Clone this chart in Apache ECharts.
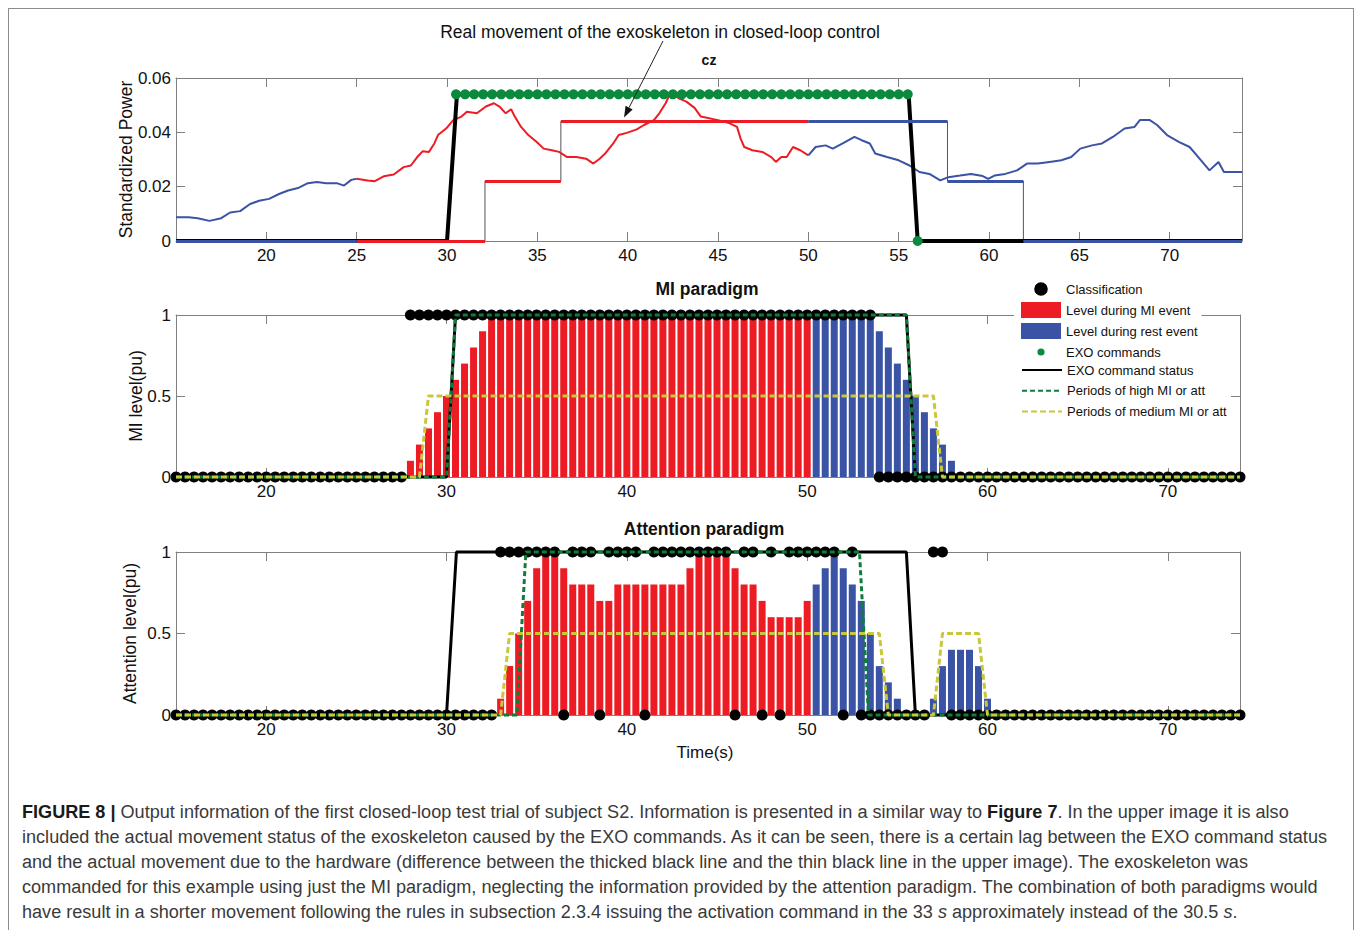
<!DOCTYPE html>
<html>
<head>
<meta charset="utf-8">
<script src="https://cdn.jsdelivr.net/npm/echarts@6/dist/echarts.min.js"></script>
<style>
  html, body { margin: 0; padding: 0; background: #fff; }
  body { width: 1360px; height: 930px; position: relative; overflow: hidden;
         font-family: 'Liberation Sans', Arial, Helvetica, sans-serif; }
  #frame { position: absolute; left: 8px; top: 8px; width: 1346px; height: 960px;
           border: 1.5px solid #8c8c8c; box-sizing: border-box; }
  #main { position: absolute; left: 0; top: 0; width: 1360px; height: 775px; }
  #caption { position: absolute; left: 22px; top: 800px; font-size: 18px; line-height: 25px;
             color: #3a3a3a; white-space: nowrap; transform-origin: 0 0; }
  #caption b { color: #1a1a1a; }
  #capRef { display: inline-block; }
</style>
</head>
<body>
<div id="frame"></div>
<div id="main"></div>
<div id="caption">
  <div><b>FIGURE 8 |</b> Output information of the first closed-loop test trial of subject S2. Information is presented in a similar way to <b>Figure 7</b>. In the upper image it is also</div>
  <div><span id="capRef">included the actual movement status of the exoskeleton caused by the EXO commands. As it can be seen, there is a certain lag between the EXO command status</span></div>
  <div>and the actual movement due to the hardware (difference between the thicked black line and the thin black line in the upper image). The exoskeleton was</div>
  <div>commanded for this example using just the MI paradigm, neglecting the information provided by the attention paradigm. The combination of both paradigms would</div>
  <div>have result in a shorter movement following the rules in subsection 2.3.4 issuing the activation command in the 33 <i>s</i> approximately instead of the 30.5 <i>s</i>.</div>
</div>
<script>
// ---- axis range and tick labels ----
var tStart = 15, tEnd = 74;
var topTicks = [20, 25, 30, 35, 40, 45, 50, 55, 60, 65, 70];
var lowTicks = [20, 30, 40, 50, 60, 70];
var powerTicks = [0, 0.02, 0.04, 0.06];
var levelTicks = [0, 0.5, 1];

// ---- Cz standardized power, [time s, power] ----
var powerRestPre = [[15,0.0087],[15.7,0.0087],[16.2,0.0084],[16.85,0.0074],[17.5,0.0084],[18,0.0105],
  [18.55,0.011],[19.1,0.0136],[19.6,0.0148],[20.15,0.0155],[20.7,0.0173],[21.2,0.0186],[21.75,0.0195],
  [22.3,0.0213],[22.8,0.0217],[23.3,0.0213],[23.9,0.0213],[24.3,0.0204],[24.7,0.0225],[25,0.0229]];
var powerMI = [[25,0.0229],[25.6,0.0223],[26,0.022],[26.5,0.0238],[27.05,0.0245],[27.6,0.0272],[28,0.0278],
  [28.35,0.0309],[28.65,0.033],[29,0.0328],[29.3,0.0359],[29.5,0.039],[29.95,0.0414],[30.35,0.0445],
  [30.8,0.0458],[31.1,0.0476],[31.65,0.047],[32.15,0.0495],[32.6,0.0507],[32.9,0.0495],[33.25,0.047],
  [33.55,0.0485],[33.75,0.0458],[34.1,0.042],[34.5,0.039],[34.95,0.0365],[35.35,0.034],[35.8,0.0334],
  [36.2,0.0328],[36.65,0.0309],[37.15,0.0309],[37.7,0.0303],[38.1,0.0285],[38.45,0.0303],[38.75,0.0322],
  [39.2,0.0359],[39.5,0.039],[39.95,0.0398],[40.5,0.0411],[40.9,0.0427],[41.45,0.0445],[41.75,0.047],
  [42.1,0.0507],[42.4,0.055],[42.8,0.0526],[43.25,0.0513],[43.7,0.049],[44.05,0.0458],[45,0.0445],
  [45.65,0.0433],[46.05,0.042],[46.25,0.0377],[46.45,0.0346],[46.9,0.0334],[47.45,0.0328],[47.95,0.0309],
  [48.2,0.0291],[48.5,0.0309],[48.8,0.0309],[49.15,0.0346],[49.55,0.0334],[50,0.0315]];
var powerRestPost = [[50,0.0315],[50.4,0.0346],[50.95,0.0352],[51.35,0.034],[51.9,0.0359],[52.55,0.0383],
  [52.95,0.0371],[53.4,0.0359],[53.7,0.0322],[54.35,0.0309],[55,0.0297],[55.6,0.0278],[56.15,0.0254],
  [56.7,0.0247],[57.3,0.0223],[57.75,0.0235],[58.4,0.0241],[59,0.0247],[59.65,0.0239],[59.95,0.0229],
  [60.3,0.0241],[60.9,0.0247],[61.55,0.026],[62.1,0.0285],[62.7,0.0285],[63.35,0.0291],[64,0.0297],
  [64.55,0.0309],[65.05,0.034],[65.7,0.0352],[66.25,0.0359],[66.85,0.0383],[67.5,0.0414],[68.05,0.042],
  [68.35,0.0445],[68.9,0.0445],[69.3,0.0427],[69.85,0.039],[70.5,0.0365],[71.1,0.0346],[71.65,0.0303],
  [72.2,0.026],[72.7,0.0291],[73,0.0254],[73.45,0.0254],[74,0.0254]];

// threshold steps: thin line and coloured levels [from, to, level]
var thresholdLine = [[15,0],[32.1,0],[32.1,0.022],[36.3,0.022],[36.3,0.044],[57.7,0.044],
  [57.7,0.022],[61.9,0.022],[61.9,0],[74,0]];
var stepMI = [[25,32.1,0],[32.1,36.3,0.022],[36.3,50,0.044]];
var stepRest = [[15,25,0],[50,57.7,0.044],[57.7,61.9,0.022],[61.9,74,0]];

// real exoskeleton movement (thick black) and EXO commands (green)
var realMovement = [[15,0],[30,0],[30.55,0.054],[55.55,0.054],[56.05,0],[74,0]];
var exoCmdTimes = [30.5,31,31.5,32,32.5,33,33.5,34,34.5,35,35.5,36,36.5,37,37.5,38,38.5,39,39.5,40,
  40.5,41,41.5,42,42.5,43,43.5,44,44.5,45,45.5,46,46.5,47,47.5,48,48.5,49,49.5,50,
  50.5,51,51.5,52,52.5,53,53.5,54,54.5,55,55.5];
var exoCmdLevel = 0.054;
var exoStopCmd = [56.05, 0];

// classifier output every 0.5 s from 15 s (1 = MI / attention detected)
var clsStep = 0.5;
var miClass  = '0000000000 0000000000 0000001111 1111111111 1111111111 1111111111 1111111111 1111111100 0000000000 0000000000 0000000000 000000000';
var attClass = '0000000000 0000000000 0000000000 0000001111 1110111011 1101111111 1101101011 1111010000 0000110000 0000000000 0000000000 000000000';

// level bars, one every 0.5 s
var miLevelStart = 28;
var miLevels = [0.1,0.2,0.3,0.4,0.5,0.6,0.7,0.8,0.9,
  1,1,1,1,1,1,1,1,1,1, 1,1,1,1,1,1,1,1,1,1, 1,1,1,1,1,1,1,1,1,1, 1,1,1,1,1,1,1,1,1,1, 1,1,1,
  0.9,0.8,0.7,0.6,0.5,0.4,0.3,0.2,0.1];
var attLevelStart = 33;
var attLevels = [0.1,0.3,0.5,0.7,0.9,1,1,0.9,0.8,0.8, 0.8,0.7,0.7,0.8,0.8,0.8,0.8,0.8,0.8,0.8,
  0.8,0.9,1,1,1,1,0.9,0.8,0.8,0.7, 0.6,0.6,0.6,0.6,0.7,0.8,0.9,1,0.9,0.8,
  0.7,0.5,0.3,0.2,0.1,0,0,0,0.1,0.3, 0.4,0.4,0.4,0.3,0.1];
var restOnset = 50.25;

// command status and detection periods
var miStatus  = [[15,0],[30,0],[30.5,1],[55.5,1],[56,0],[74,0]];
var miHigh    = [[15,0],[30,0],[30.5,1],[55.5,1],[56,0],[74,0]];
var miMedium  = [[15,0],[28.5,0],[29,0.5],[57,0.5],[57.5,0],[74,0]];
var attStatus = [[15,0],[30,0],[30.55,1],[55.5,1],[56,0],[74,0]];
var attHigh   = [[15,0],[33.9,0],[34.4,1],[52.9,1],[53.4,0],[74,0]];
var attMedium = [[15,0],[33,0],[33.5,0.5],[54,0.5],[54.5,0],[57,0],[57.5,0.5],[59.5,0.5],[60,0],[74,0]];

var arrowTarget = [39.8, 0.0455];

// ---- styles ----
var FONT = "'Liberation Sans', Arial, Helvetica, sans-serif";
var RED = '#ed1c24', BLUE = '#3a53a4', GREEN = '#0b8a3e', DGREEN = '#0e7d3a', YELLOW = '#c8c83a';
var GRAY = '#808080';

function classPoints(str) {
  return str.replace(/\s/g, '').split('').map(function (b, i) { return [tStart + i * clsStep, +b]; });
}
function levelPoints(start, levels, keep) {
  var out = [];
  levels.forEach(function (v, i) {
    var t = start + i * 0.5;
    if (v > 0 && keep(t)) out.push([t, v]);
  });
  return out;
}
function segs(list) {
  return list.map(function (s) { return { coords: [[s[0], s[2]], [s[1], s[2]]] }; });
}

var grids = [
  { left: 176, top: 78, width: 1066, height: 163 },
  { left: 176, top: 315, width: 1064, height: 162 },
  { left: 176, top: 552, width: 1064, height: 163 }
];
grids.forEach(function (g) { g.outerBoundsMode = 'none'; g.containLabel = false; });

var xAxes = [], yAxes = [];
grids.forEach(function (g, gi) {
  var ticks = gi === 0 ? topTicks : lowTicks;
  var yt = gi === 0 ? powerTicks : levelTicks;
  var ymax = gi === 0 ? 0.06 : 1;
  var line = { show: true, onZero: false, lineStyle: { color: GRAY, width: 1 } };
  var tick = { show: true, inside: true, length: 9, customValues: ticks, lineStyle: { color: GRAY } };
  xAxes.push({
    type: 'value', gridIndex: gi, position: 'bottom', min: tStart, max: tEnd,
    axisLine: line, axisTick: tick, splitLine: { show: false },
    axisLabel: { customValues: ticks, color: '#111', fontSize: 17, fontFamily: FONT, margin: 6 },
    name: gi === 2 ? 'Time(s)' : '', nameLocation: 'middle', nameGap: 29, nameMoveOverlap: false,
    nameTextStyle: { color: '#111', fontSize: 17, fontFamily: FONT, padding: [0, 6, 0, 0] }
  });
  xAxes.push({
    type: 'value', gridIndex: gi, position: 'top', min: tStart, max: tEnd,
    axisLine: line, axisTick: tick, axisLabel: { show: false }, splitLine: { show: false }
  });
  var ytick = { show: true, inside: true, length: 9, customValues: yt, lineStyle: { color: GRAY } };
  yAxes.push({
    type: 'value', gridIndex: gi, position: 'left', min: 0, max: ymax,
    axisLine: line, axisTick: ytick, splitLine: { show: false },
    axisLabel: { customValues: yt, color: '#111', fontSize: 17, fontFamily: FONT, margin: 5 },
    name: ['Standardized Power', 'MI level(pu)', 'Attention level(pu)'][gi],
    nameLocation: 'middle', nameGap: [41, 31, 37][gi], nameMoveOverlap: false,
    nameTextStyle: { color: '#111', fontSize: 17.5, fontFamily: FONT }
  });
  yAxes.push({
    type: 'value', gridIndex: gi, position: 'right', min: 0, max: ymax,
    axisLine: line, axisTick: ytick, axisLabel: { show: false }, splitLine: { show: false }
  });
});

function lineSeries(name, data, axis, color, width, dash, z) {
  return {
    type: 'line', name: name, data: data, xAxisIndex: axis, yAxisIndex: axis,
    symbol: 'none', clip: false, z: z, silent: true,
    lineStyle: { color: color, width: width, type: dash || 'solid' }, itemStyle: { color: color }
  };
}
function dots(name, data, axis, color, size, z) {
  return { type: 'scatter', name: name, data: data, xAxisIndex: axis, yAxisIndex: axis,
    clip: false, z: z, silent: true, symbolSize: size, itemStyle: { color: color, opacity: 1 } };
}
function bars(name, data, axis, color) {
  return { type: 'bar', name: name, data: data, xAxisIndex: axis, yAxisIndex: axis,
    barWidth: 7, barGap: '-100%', silent: true, z: 2, itemStyle: { color: color } };
}

var series = [
  // upper panel
  lineSeries('Threshold', thresholdLine, 0, '#555', 1, null, 2),
  lineSeries('Cz power (rest)', powerRestPre, 0, BLUE, 2, null, 3),
  lineSeries('Cz power (MI)', powerMI, 0, RED, 2, null, 3),
  lineSeries('Cz power (rest) ', powerRestPost, 0, BLUE, 2, null, 3),
  lineSeries('Real movement', realMovement, 0, '#000', 4, null, 4),
  { type: 'lines', name: 'Step MI', coordinateSystem: 'cartesian2d', xAxisIndex: 0, yAxisIndex: 0,
    data: segs(stepMI), clip: false, z: 5, silent: true, lineStyle: { color: RED, width: 3, opacity: 1 } },
  { type: 'lines', name: 'Step rest', coordinateSystem: 'cartesian2d', xAxisIndex: 0, yAxisIndex: 0,
    data: segs(stepRest), clip: false, z: 5, silent: true, lineStyle: { color: BLUE, width: 3, opacity: 1 } },
  dots('EXO commands', exoCmdTimes.map(function (t) { return [t, exoCmdLevel]; }).concat([exoStopCmd]), 0, GREEN, 10, 6),

  // MI paradigm
  bars('Level during MI event', levelPoints(miLevelStart, miLevels, function (t) { return t < restOnset; }), 2, RED),
  bars('Level during rest event', levelPoints(miLevelStart, miLevels, function (t) { return t > restOnset; }), 2, BLUE),
  dots('Classification', classPoints(miClass), 2, '#000', 11, 3),
  lineSeries('EXO command status', miStatus, 2, '#000', 3, null, 4),
  lineSeries('Periods of high MI or att', miHigh, 2, DGREEN, 3, [5, 3], 5),
  lineSeries('Periods of medium MI or att', miMedium, 2, YELLOW, 3, [6, 3], 6),

  // Attention paradigm
  bars('Level during MI event', levelPoints(attLevelStart, attLevels, function (t) { return t < restOnset; }), 4, RED),
  bars('Level during rest event', levelPoints(attLevelStart, attLevels, function (t) { return t > restOnset; }), 4, BLUE),
  dots('Classification', classPoints(attClass), 4, '#000', 11, 3),
  lineSeries('EXO command status', attStatus, 4, '#000', 3, null, 4),
  lineSeries('Periods of high MI or att', attHigh, 4, DGREEN, 3, [5, 3], 5),
  lineSeries('Periods of medium MI or att', attMedium, 4, YELLOW, 3, [6, 3], 6)
];

var legendBase = {
  orient: 'vertical', left: 1014, padding: [4, 4, 4, 7], backgroundColor: '#fff',
  itemWidth: 40, selectedMode: false, symbolKeepAspect: true,
  textStyle: { color: '#111', fontSize: 13, fontFamily: FONT }
};
var noSymbol = { opacity: 0 };

var chart = echarts.init(document.getElementById('main'), null, { renderer: 'svg' });
chart.setOption({
  animation: false,
  grid: grids,
  xAxis: xAxes,
  yAxis: yAxes,
  legend: [
    Object.assign({}, legendBase, {
      top: 277, itemHeight: 16, itemGap: 5,
      data: [
        { name: 'Classification', icon: 'path://M0,0M20,20M18.5,10A8.5,8.5,0,1,1,1.5,10A8.5,8.5,0,1,1,18.5,10Z' },
        { name: 'Level during MI event', icon: 'rect' },
        { name: 'Level during rest event', icon: 'rect' },
        { name: 'EXO commands', icon: 'path://M0,0M20,20M14.5,10A4.5,4.5,0,1,1,5.5,10A4.5,4.5,0,1,1,14.5,10Z' }
      ]
    }),
    Object.assign({}, legendBase, {
      top: 359.5, itemHeight: 16, itemGap: 7.7,
      data: [
        { name: 'EXO command status', itemStyle: noSymbol },
        { name: 'Periods of high MI or att', itemStyle: noSymbol },
        { name: 'Periods of medium MI or att', itemStyle: noSymbol }
      ]
    })
  ],
  series: series
});

// titles and the arrow of the upper panel
var tip = chart.convertToPixel({ xAxisIndex: 0, yAxisIndex: 0 }, arrowTarget);
var start = [663, 41];
var dx = tip[0] - start[0], dy = tip[1] - start[1];
var len = Math.sqrt(dx * dx + dy * dy), ux = dx / len, uy = dy / len;
var bx = tip[0] - ux * 11, by = tip[1] - uy * 11;
function txt(text, x, y, size, weight) {
  return { type: 'text', x: x, y: y, z: 10, silent: true,
    style: { text: text, align: 'center', verticalAlign: 'middle', fill: '#111',
             fontSize: size, fontWeight: weight || 'normal', fontFamily: FONT } };
}
chart.setOption({
  graphic: [
    txt('Real movement of the exoskeleton in closed-loop control', 660, 32, 17.5),
    txt('cz', 709, 60, 14, 'bold'),
    txt('MI paradigm', 707, 289, 17.5, 'bold'),
    txt('Attention paradigm', 704, 529, 17.5, 'bold'),
    { type: 'line', z: 10, silent: true,
      shape: { x1: start[0], y1: start[1], x2: bx, y2: by },
      style: { stroke: '#222', lineWidth: 1 } },
    { type: 'polygon', z: 10, silent: true,
      shape: { points: [tip, [bx - uy * 4, by + ux * 4], [bx + uy * 4, by - ux * 4]] },
      style: { fill: '#111' } }
  ]
});

// squeeze the caption to the width of the printed lines
function fitCaption() {
  var cap = document.getElementById('caption');
  cap.style.transform = 'none';
  var w = document.getElementById('capRef').getBoundingClientRect().width;
  cap.style.transform = 'scaleX(' + (1305 / w) + ')';
}
fitCaption();
if (document.fonts && document.fonts.ready) document.fonts.ready.then(fitCaption);
</script>
</body>
</html>
